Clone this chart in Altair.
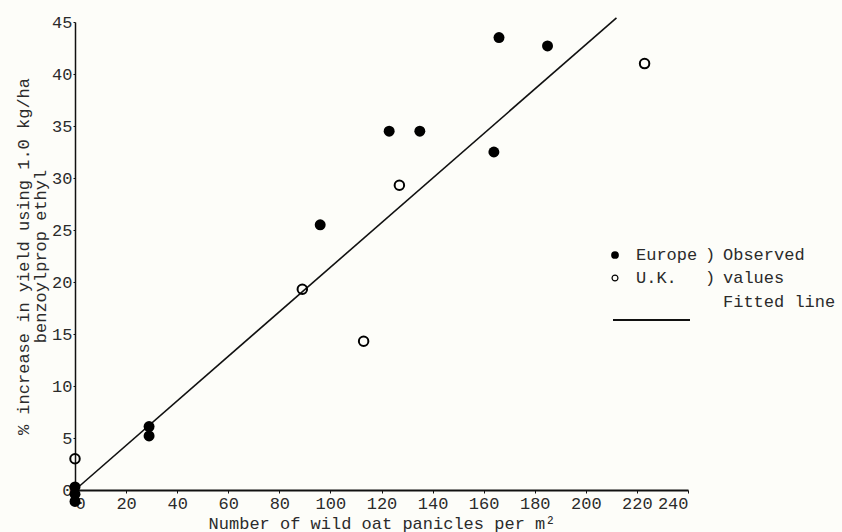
import altair as alt
import pandas as pd

# Observed values
europe_x = [0, 0, 0, 29, 29, 96, 123, 135, 164, 166, 185]
europe_y = [0.3, -0.4, -1.1, 6.1, 5.2, 25.5, 34.5, 34.5, 32.5, 43.5, 42.7]
uk_x = [0, 89, 113, 127, 223]
uk_y = [3.0, 19.3, 14.3, 29.3, 41.0]

# Fitted line end points
fit_x = [0, 212]
fit_y = [0, 45.4]

x_ticks = list(range(0, 241, 20))
y_ticks = list(range(0, 46, 5))

FONT = "Liberation Mono"
INK = "#2b2b2b"

europe = pd.DataFrame({"x": europe_x, "y": europe_y})
uk = pd.DataFrame({"x": uk_x, "y": uk_y})
fit = pd.DataFrame({"x": fit_x, "y": fit_y})

xs = alt.Scale(domain=[0, 240], nice=False, zero=False)
ys = alt.Scale(domain=[0, 45], nice=False, zero=False)

xaxis = alt.Axis(values=x_ticks, title="Number of wild oat panicles per m²",
                 grid=False, domainColor="#111", domainWidth=2, tickColor="#111",
                 tickSize=3, labelFont=FONT, labelFontSize=17, labelColor=INK,
                 titleFont=FONT, titleFontSize=17, titleFontWeight="normal",
                 titleColor=INK, titlePadding=4, labelPadding=2)
yaxis = alt.Axis(values=y_ticks, title=["% increase in yield using 1.0 kg/ha", "benzoylprop ethyl"],
                 grid=False, domainColor="#111", domainWidth=1.5, tickColor="#111",
                 tickSize=2, labelFont=FONT, labelFontSize=17, labelColor=INK,
                 titleFont=FONT, titleFontSize=17, titleFontWeight="normal",
                 titleColor=INK, titlePadding=2, labelPadding=1, titleLineHeight=17)

line = alt.Chart(fit).mark_line(color="#111", strokeWidth=1.6).encode(
    x=alt.X("x:Q", scale=xs, axis=xaxis),
    y=alt.Y("y:Q", scale=ys, axis=yaxis),
)
eu_pts = alt.Chart(europe).mark_point(filled=True, color="#000", size=120, opacity=1).encode(
    x=alt.X("x:Q", scale=xs), y=alt.Y("y:Q", scale=ys))
uk_pts = alt.Chart(uk).mark_point(filled=False, color="#000", size=90, strokeWidth=2, opacity=1).encode(
    x=alt.X("x:Q", scale=xs), y=alt.Y("y:Q", scale=ys))

# Legend (drawn by hand, like the original)
leg = pd.DataFrame({"a": [0]})
def txt(s, x, y):
    return alt.Chart(leg).mark_text(text=s, font=FONT, fontSize=17, color=INK,
                                    align="left", baseline="middle").encode(
        x=alt.value(x), y=alt.value(y))

leg_dot = alt.Chart(leg).mark_point(filled=True, color="#000", size=60, opacity=1).encode(
    x=alt.value(540), y=alt.value(233))
leg_circ = alt.Chart(leg).mark_point(filled=False, color="#000", size=35, strokeWidth=1.2, opacity=1).encode(
    x=alt.value(540), y=alt.value(256))
leg_line = alt.Chart(leg).mark_rule(color="#111", strokeWidth=2).encode(
    x=alt.value(538), x2=alt.value(615), y=alt.value(298))

chart = alt.layer(
    line, eu_pts, uk_pts,
    leg_dot, leg_circ, leg_line,
    txt("Europe", 561, 233), txt(")", 630, 233), txt("Observed", 648, 233),
    txt("U.K.", 561, 256), txt(")", 630, 256), txt("values", 648, 256),
    txt("Fitted line", 648, 280),
).properties(
    width=613, height=468,
    autosize=alt.AutoSizeParams(type="none"),
    padding={"left": 75, "top": 22, "right": 154, "bottom": 42},
    background="#fdfdf9",
).configure_view(stroke=None)

chart.save("out.html", embed_options={"renderer": "svg", "actions": False})
